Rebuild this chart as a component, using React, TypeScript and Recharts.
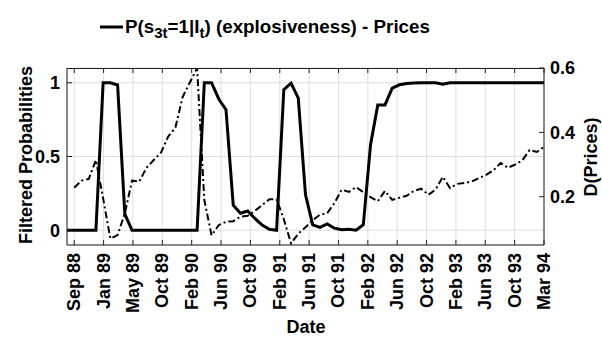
import React from "react";
import { LineChart, Line, XAxis, YAxis, CartesianGrid } from "recharts";

// monthly observations, index 0..66
const tickLabels = [
  "Sep 88", "Jan 89", "May 89", "Oct 89", "Feb 90", "Jun 90", "Oct 90", "Feb 91", "Jun 91",
  "Oct 91", "Feb 92", "Jun 92", "Oct 92", "Feb 93", "Jun 93", "Oct 93", "Mar 94",
];
const tickPos = tickLabels.map((_, k) => 1 + (65 / 16) * k);

const probs = [
  0, 0, 0, 0, 0, 1, 1, 0.985, 0.11, 0,
  0, 0, 0, 0, 0, 0, 0, 0, 0, 1,
  1, 0.89, 0.817, 0.17, 0.115, 0.13, 0.08, 0.035, 0.007, 0,
  0.953, 0.997, 0.896, 0.24, 0.037, 0.02, 0.043, 0.014, 0.003, 0.007,
  0, 0.037, 0.58, 0.85, 0.85, 0.963, 0.986, 0.995, 0.998, 1,
  1, 1, 0.99, 1, 1, 1, 1, 1, 1, 1,
  1, 1, 1, 1, 1, 1, 1,
];

const dPrices = [
  null, 0.228, 0.25, 0.255, 0.314, 0.195, 0.07, 0.081, 0.148, 0.25,
  0.247, 0.29, 0.314, 0.337, 0.387, 0.415, 0.51, 0.555, 0.6, 0.19,
  0.08, 0.112, 0.122, 0.124, 0.138, 0.141, 0.156, 0.174, 0.192, 0.192,
  0.13, 0.055, 0.085, 0.105, 0.127, 0.144, 0.149, 0.18, 0.222, 0.215,
  0.23, 0.214, 0.199, 0.186, 0.218, 0.19, 0.197, 0.203, 0.218, 0.225,
  0.206, 0.222, 0.262, 0.227, 0.24, 0.243, 0.247, 0.258, 0.268, 0.282,
  0.305, 0.29, 0.3, 0.313, 0.345, 0.339, 0.355,
];

const data = probs.map((p, i) => ({ t: i, prob: p, dp: dPrices[i] }));

const FONT = "'Liberation Sans', Arial, Helvetica, sans-serif";
const AXIS = "#222";

// plot box in page pixels
const PL = 67;
const PR = 544;
const PT = 68;

const DateTick = (props: any) => {
  const { x, index } = props;
  return (
    <text
      transform={`translate(${x},253) rotate(-90)`}
      textAnchor="end"
      dominantBaseline="central"
      fontFamily={FONT}
      fontWeight="bold"
      fontSize={18}
      fill="#000"
    >
      {tickLabels[index]}
    </text>
  );
};

const tickStyle = { fontFamily: FONT, fontWeight: "bold", fontSize: 18, fill: "#000" };

export default function App() {
  return (
    <div style={{ position: "absolute", left: 0, top: 0, width: 602, height: 338, background: "#fff" }}>
      <LineChart width={602} height={338} data={data} margin={{ top: PT, right: 0, bottom: 0, left: 0 }}>
        <CartesianGrid xAxisId="main" yAxisId="p" stroke="#dedede" vertical horizontal />
        <XAxis
          xAxisId="main"
          dataKey="t"
          type="number"
          domain={[0, 66]}
          ticks={tickPos}
          interval={0}
          height={93}
          tick={<DateTick />}
          tickSize={-5}
          tickMargin={13}
          stroke={AXIS}
          allowDataOverflow
        />
        <YAxis
          yAxisId="p"
          domain={[-0.1, 1.1]}
          ticks={[0, 0.5, 1]}
          width={PL}
          tickSize={-5}
          tickMargin={12}
          tick={tickStyle}
          stroke={AXIS}
          allowDataOverflow
        />
        <YAxis
          yAxisId="d"
          orientation="right"
          domain={[0.05, 0.6]}
          ticks={[0.2, 0.4, 0.6]}
          width={602 - PR}
          tickSize={-5}
          tickMargin={11}
          tick={tickStyle}
          stroke={AXIS}
          allowDataOverflow
        />
        <Line
          xAxisId="main"
          yAxisId="p"
          type="linear"
          dataKey="prob"
          stroke="#000"
          strokeWidth={3}
          dot={false}
          isAnimationActive={false}
        />
        <Line
          xAxisId="main"
          yAxisId="d"
          type="linear"
          dataKey="dp"
          stroke="#000"
          strokeWidth={2}
          strokeDasharray="7 3 2 3"
          dot={false}
          connectNulls={false}
          isAnimationActive={false}
        />
      </LineChart>
      <svg
        width={602}
        height={338}
        style={{ position: "absolute", left: 0, top: 0, pointerEvents: "none" }}
        fontFamily={FONT}
        fontWeight="bold"
      >
        {/* top side of the box, with inward ticks */}
        <line x1={PL} x2={PR} y1={PT + 0.5} y2={PT + 0.5} stroke={AXIS} strokeWidth={1} />
        {tickPos.map((v) => {
          const x = PL + ((PR - PL) * v) / 66;
          return <line key={v} x1={x} x2={x} y1={PT} y2={PT + 5} stroke={AXIS} strokeWidth={1} />;
        })}
        <line x1={100} x2={123} y1={27} y2={27} stroke="#000" strokeWidth={3} />
        <text x={125} y={33} fontSize={18.8} fill="#000">
          P(s<tspan fontSize={15} dy={5}>3t</tspan>
          <tspan dy={-5}>=1|I</tspan>
          <tspan fontSize={15} dy={5}>t</tspan>
          <tspan dy={-5}>) (explosiveness) - Prices</tspan>
        </text>
        <text transform="translate(32,155) rotate(-90)" textAnchor="middle" fontSize={18} fill="#000">
          Filtered Probabilities
        </text>
        <text transform="translate(597,157) rotate(-90)" textAnchor="middle" fontSize={18} fill="#000">
          D(Prices)
        </text>
        <text x={306} y={333} textAnchor="middle" fontSize={18} fill="#000">
          Date
        </text>
      </svg>
    </div>
  );
}
